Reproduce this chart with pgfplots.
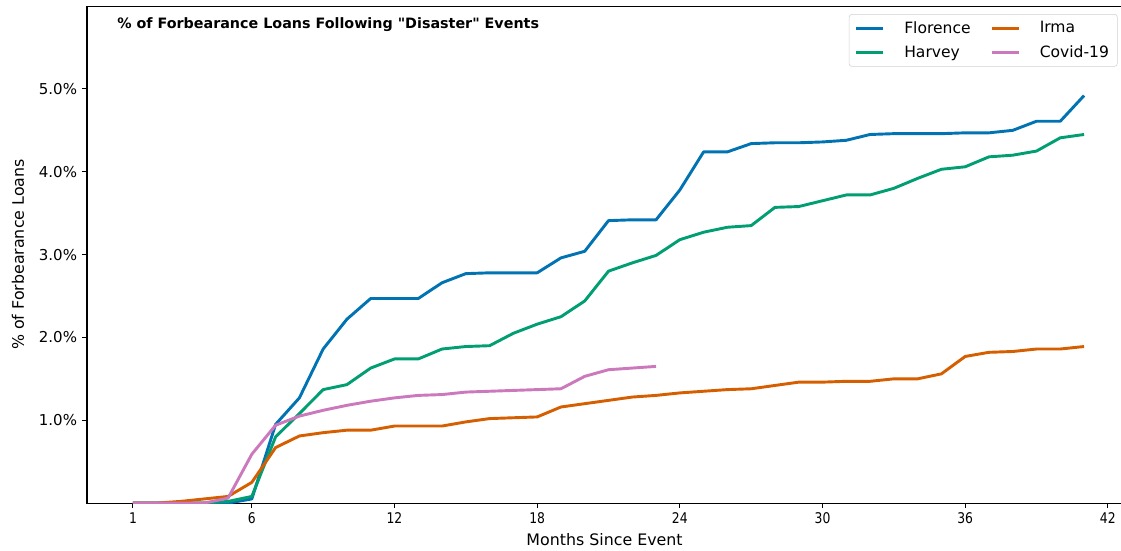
\documentclass[border=0pt]{standalone}
\usepackage{fontspec}
\setmainfont{DejaVu Sans}
\newfontfamily\qfont{DejaVu Sans}
\usepackage{graphicx}
\usepackage{pgfplots}
\pgfplotsset{compat=1.18}
\definecolor{cFlo}{HTML}{0173B2}
\definecolor{cHar}{HTML}{029E73}
\definecolor{cIrm}{HTML}{D55E00}
\definecolor{cCov}{HTML}{CC78BC}
\newcommand{\xt}[1]{\scalebox{0.84}[1]{#1}}
\begin{document}
\begin{tikzpicture}
\path[use as bounding box] (-62.6pt,-33.8pt) rectangle (744.5pt,362.2pt);
\begin{axis}[
  at={(0,0)}, anchor=south west,
  scale only axis, width=745.3pt, height=357.8pt,
  xmin=-0.934, xmax=42.6, ymin=0, ymax=6,
  xtick={1,6,12,18,24,30,36,42},
  xticklabels={\xt{1},\xt{6},\xt{12},\xt{18},\xt{24},\xt{30},\xt{36},\xt{42}},
  ytick={1,2,3,4,5},
  yticklabels={1.0\%,2.0\%,3.0\%,4.0\%,5.0\%},
  xtick pos=bottom, ytick pos=left,
  tick align=outside, major tick length=3.6pt,
  every tick/.style={black, line width=0.7pt},
  axis line style={black, line width=0.8pt},
  x tick label style={font=\fontsize{10.6}{12}\selectfont},
  y tick label style={font=\fontsize{10.8}{12}\selectfont},
  xlabel={Months Since Event},
  ylabel={\% of Forbearance Loans},
  label style={font=\fontsize{11.4}{13}\selectfont},
  xlabel style={at={(axis description cs:0.5,0)}, anchor=center, yshift=-26.6pt},
  ylabel style={at={(axis description cs:-0.0667,0.5)}, anchor=center, rotate=0},
  legend columns=2, transpose legend,
  legend cell align=left,
  legend style={at={(axis description cs:0.736,0.984)}, anchor=north west,
    draw=black!18, rounded corners=2pt, fill=white,
    font=\fontsize{11.2}{13}\selectfont,
    column sep=12pt, row sep=3.5pt, inner xsep=4pt, inner ysep=3pt},
  legend image post style={xscale=1.15},
  every axis plot/.append style={line width=2.1pt, line join=round},
]
\addplot[cFlo] coordinates {
(1,0)(2,0)(3,0)(4,0)(5,0)(6,0.05)(7,0.95)(8,1.27)(9,1.86)(10,2.22)
(11,2.47)(12,2.47)(13,2.47)(14,2.66)(15,2.77)(16,2.78)(17,2.78)(18,2.78)(19,2.96)(20,3.04)
(21,3.41)(22,3.42)(23,3.42)(24,3.78)(25,4.24)(26,4.24)(27,4.34)(28,4.35)(29,4.35)(30,4.36)
(31,4.38)(32,4.45)(33,4.46)(34,4.46)(35,4.46)(36,4.47)(37,4.47)(38,4.50)(39,4.61)(40,4.61)(41,4.92)};
\addlegendentry{Florence}
\addplot[cHar] coordinates {
(1,0)(2,0)(3,0)(4,0)(5,0.02)(6,0.08)(7,0.80)(8,1.08)(9,1.37)(10,1.43)
(11,1.63)(12,1.74)(13,1.74)(14,1.86)(15,1.89)(16,1.90)(17,2.05)(18,2.16)(19,2.25)(20,2.44)
(21,2.80)(22,2.90)(23,2.99)(24,3.18)(25,3.27)(26,3.33)(27,3.35)(28,3.57)(29,3.58)(30,3.65)
(31,3.72)(32,3.72)(33,3.80)(34,3.92)(35,4.03)(36,4.06)(37,4.18)(38,4.20)(39,4.25)(40,4.41)(41,4.45)};
\addlegendentry{Harvey}
\addplot[cIrm] coordinates {
(1,0)(2,0)(3,0.02)(4,0.05)(5,0.08)(6,0.25)(7,0.67)(8,0.81)(9,0.85)(10,0.88)
(11,0.88)(12,0.93)(13,0.93)(14,0.93)(15,0.98)(16,1.02)(17,1.03)(18,1.04)(19,1.16)(20,1.20)
(21,1.24)(22,1.28)(23,1.30)(24,1.33)(25,1.35)(26,1.37)(27,1.38)(28,1.42)(29,1.46)(30,1.46)
(31,1.47)(32,1.47)(33,1.50)(34,1.50)(35,1.56)(36,1.77)(37,1.82)(38,1.83)(39,1.86)(40,1.86)(41,1.89)};
\addlegendentry{Irma}
\addplot[cCov] coordinates {
(1,0)(2,0)(3,0)(4,0)(5,0.06)(6,0.59)(7,0.94)(8,1.05)(9,1.12)(10,1.18)
(11,1.23)(12,1.27)(13,1.30)(14,1.31)(15,1.34)(16,1.35)(17,1.36)(18,1.37)(19,1.38)(20,1.53)
(21,1.61)(22,1.63)(23,1.65)};
\addlegendentry{Covid-19}
\node[anchor=west, inner sep=0pt, font=\fontsize{10.3}{12}\selectfont\bfseries] at (rel axis cs:0.029,0.962)
  {\% of Forbearance Loans Following {\qfont\bfseries "}Disaster{\qfont\bfseries "} Events};
\end{axis}
\end{tikzpicture}
\end{document}
